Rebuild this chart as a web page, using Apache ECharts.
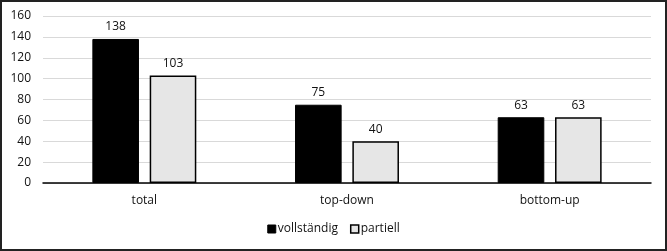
<!DOCTYPE html>
<html><head><meta charset="utf-8">
<script src="https://cdn.jsdelivr.net/npm/echarts@6/dist/echarts.min.js"></script>
<style>html,body{margin:0;padding:0;background:#fff}#c{width:667px;height:251px;box-sizing:border-box;border:2px solid #222}</style>
</head><body><div id="c"></div>
<script>
const categories = ['total', 'top-down', 'bottom-up'];
const vollstaendig = [138, 75, 63];
const partiell = [103, 40, 63];
const seriesNames = ['vollständig', 'partiell'];
const FONT = "'Open Sans', 'Noto Sans', sans-serif";
const chart = echarts.init(document.getElementById('c'), null, {renderer: 'canvas'});
chart.setOption({
  animation: false,
  textStyle: {fontFamily: FONT},
  grid: {left: 41, right: 14, top: 14, bottom: 66},
  legend: {
    bottom: 9, left: 'center', itemWidth: 8, itemHeight: 8, itemGap: 12,
    textStyle: {fontSize: 12, color: '#111', fontFamily: FONT, padding: [0,0,0,-3]},
    data: [
      {name: seriesNames[0], icon: 'rect', itemStyle: {color: '#000', borderColor: '#000', borderWidth: 1}},
      {name: seriesNames[1], icon: 'rect', itemStyle: {color: '#e6e6e6', borderColor: '#000', borderWidth: 1.5}}
    ]
  },
  xAxis: {
    type: 'category', data: categories,
    axisLine: {lineStyle: {color: '#000', width: 1.5}},
    axisTick: {show: false},
    axisLabel: {color: '#111', fontSize: 12, margin: 12, fontFamily: FONT}
  },
  yAxis: {
    type: 'value', min: 0, max: 160, interval: 20,
    axisLine: {show: false}, axisTick: {show: false},
    axisLabel: {color: '#111', fontSize: 12, margin: 12, fontFamily: FONT},
    splitLine: {lineStyle: {color: '#d9d9d9', width: 1}}
  },
  series: [
    {name: seriesNames[0], type: 'bar', data: vollstaendig, barWidth: '23%', barGap: '23%',
     itemStyle: {color: '#000', borderColor: '#000', borderWidth: 1},
     label: {show: true, position: 'top', color: '#111', fontSize: 12, distance: 6, fontFamily: FONT}},
    {name: seriesNames[1], type: 'bar', data: partiell, barWidth: '23%',
     itemStyle: {color: '#e6e6e6', borderColor: '#000', borderWidth: 1.5},
     label: {show: true, position: 'top', color: '#111', fontSize: 12, distance: 6, fontFamily: FONT}}
  ]
});
</script></body></html>
